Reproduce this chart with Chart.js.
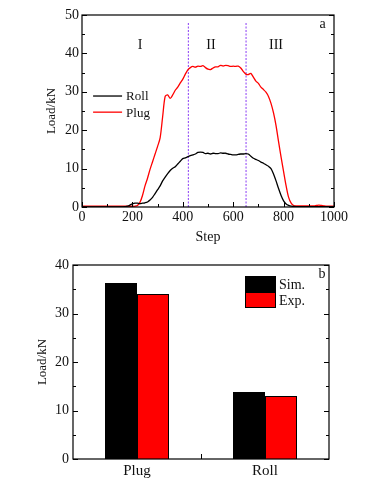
<!DOCTYPE html>
<html>
<head>
<meta charset="utf-8">
<script src="https://cdn.jsdelivr.net/npm/chart.js@4/dist/chart.umd.min.js"></script>
<style>
  html, body { margin: 0; padding: 0; background: #fff; }
  #wrapA { position: absolute; left: 0; top: 0; width: 370px; height: 248px; }
  #wrapB { position: absolute; left: 0; top: 248px; width: 370px; height: 235px; }
</style>
</head>
<body>
<div id="wrapA"><canvas id="chartA" width="370" height="248"></canvas></div>
<div id="wrapB"><canvas id="chartB" width="370" height="235"></canvas></div>
<script>
// ---------- Data: panel a ----------
const steps = [
  0,10,20,30,40,50,60,70,80,90,
  100,110,120,130,140,150,160,170,180,190,
  200,210,220,230,240,250,260,270,280,290,
  300,310,320,330,340,350,360,370,380,390,
  400,410,420,430,440,450,460,470,480,490,
  500,510,520,530,540,550,560,570,580,590,
  600,610,620,630,640,650,660,670,680,690,
  700,710,720,730,740,750,760,770,780,790,
  800,810,820,830,840,850,860,870,880,890,
  900,910,920,930,940,950,960,970,980,990,
  1000
];
const rollLoad = [
  0.05,0.05,0.05,0.05,0.05,0.05,0.05,0.05,0.05,0.05,
  0.05,0.05,0.05,0.05,0.05,0.05,0.05,0.1,0.2,0.5,
  0.8,1.0,1.0,0.9,1.0,1.1,1.3,1.8,2.5,3.5,
  4.5,5.5,6.8,7.8,8.7,9.5,10.1,10.5,11.2,11.9,
  12.6,12.8,13.1,13.4,13.6,13.8,14.2,14.3,14.2,13.9,
  14.0,13.8,14.0,13.9,13.9,14.1,14.0,14.0,13.8,13.7,
  13.6,13.6,13.7,13.8,13.8,13.9,13.8,13.2,12.7,12.4,
  12.1,11.7,11.4,11.0,10.6,10.0,8.6,6.8,4.8,3.0,
  1.6,0.8,0.4,0.2,0.15,0.1,0.1,0.1,0.1,0.1,
  0.1,0.1,0.1,0.1,0.1,0.1,0.1,0.1,0.1,0.1,
  0.1
];
const plugLoad = [
  0.2,0.2,0.2,0.2,0.2,0.2,0.2,0.2,0.2,0.2,
  0.2,0.2,0.2,0.2,0.2,0.2,0.2,0.2,0.2,0.2,
  0.2,0.2,0.4,1.2,3.0,5.5,7.5,9.8,11.8,13.8,
  15.8,18.0,23.5,28.8,29.2,28.3,29.2,30.4,31.2,32.3,
  33.3,34.6,35.7,36.3,36.6,36.4,36.7,36.6,36.8,36.3,
  35.9,35.8,36.2,36.5,36.5,36.9,36.7,36.9,36.8,36.6,
  36.7,36.6,36.7,36.2,35.3,34.6,34.5,34.8,33.8,32.8,
  32.2,31.2,30.6,29.9,28.8,27.0,24.5,21.2,17.0,13.0,
  9.2,5.5,2.5,1.0,0.4,0.3,0.3,0.3,0.3,0.3,
  0.3,0.3,0.3,0.4,0.5,0.4,0.3,0.2,0.2,0.2,
  0.2
];
const phaseBoundaries = [422, 651];
const phaseLabels = ['I', 'II', 'III'];
const phaseLabelSteps = [230, 512, 770];
const stepTicks = [0, 200, 400, 600, 800, 1000];
const loadTicksA = [0, 10, 20, 30, 40, 50];

// ---------- Data: panel b ----------
const barCategories = ['Plug', 'Roll'];
const simLoad = [36.3, 13.8];
const expLoad = [34.0, 13.0];
const loadTicksB = [0, 10, 20, 30, 40];

const FONT = "'Liberation Serif', 'Times New Roman', serif";
const TXT = '#111';

function toPoints(xs, ys) { return xs.map((x, i) => ({ x: x, y: ys[i] })); }

// frame + inward ticks plugin
const framePlugin = {
  id: 'frame',
  afterDatasetsDraw(chart, args, opts) {
    const ctx = chart.ctx;
    const a = chart.chartArea;
    const ys = chart.scales.y;
    ctx.save();
    ctx.strokeStyle = '#000';
    ctx.lineWidth = 1.2;
    ctx.strokeRect(a.left, a.top, a.right - a.left, a.bottom - a.top);
    ctx.lineWidth = 1;
    for (let v = ys.min; v <= ys.max + 1e-9; v += opts.yMinor) {
      const py = Math.round(ys.getPixelForValue(v)) + 0.5;
      const major = Math.abs(v / opts.yMajor - Math.round(v / opts.yMajor)) < 1e-6;
      const len = major ? 5 : 3;
      ctx.beginPath();
      ctx.moveTo(a.left, py); ctx.lineTo(a.left + len, py);
      ctx.moveTo(a.right, py); ctx.lineTo(a.right - len, py);
      ctx.stroke();
    }
    const xs = chart.scales.x;
    if (opts.xMinor) {
      for (let v = xs.min; v <= xs.max + 1e-9; v += opts.xMinor) {
        const px = Math.round(xs.getPixelForValue(v)) + 0.5;
        const major = Math.abs(v / opts.xMajor - Math.round(v / opts.xMajor)) < 1e-6;
        const len = major ? 5 : 3;
        ctx.beginPath();
        ctx.moveTo(px, a.bottom); ctx.lineTo(px, a.bottom - len);
        ctx.stroke();
      }
    } else {
      const px = Math.round((xs.getPixelForValue(0) + xs.getPixelForValue(1)) / 2) + 0.5;
      ctx.beginPath();
      ctx.moveTo(px, a.bottom); ctx.lineTo(px, a.bottom - 5);
      ctx.stroke();
    }
    ctx.restore();
  }
};

// annotations for panel a
const annotA = {
  id: 'annotA',
  afterDraw(chart) {
    const ctx = chart.ctx;
    const xs = chart.scales.x, ys = chart.scales.y;
    ctx.save();
    ctx.fillStyle = TXT;
    ctx.font = '14px ' + FONT;
    ctx.textAlign = 'center';
    ctx.textBaseline = 'middle';
    phaseLabels.forEach((t, i) => {
      ctx.fillText(t, xs.getPixelForValue(phaseLabelSteps[i]), ys.getPixelForValue(42.2));
    });
    ctx.fillText('a', xs.getPixelForValue(955), ys.getPixelForValue(47.6));
    const items = [['Roll', '#000', 28.9], ['Plug', '#ff0000', 24.7]];
    ctx.textAlign = 'left';
    ctx.font = '13px ' + FONT;
    items.forEach(([label, col, v]) => {
      const py = ys.getPixelForValue(v);
      ctx.strokeStyle = col;
      ctx.lineWidth = 1.3;
      ctx.beginPath();
      ctx.moveTo(xs.getPixelForValue(44), py);
      ctx.lineTo(xs.getPixelForValue(159), py);
      ctx.stroke();
      ctx.fillStyle = TXT;
      ctx.fillText(label, xs.getPixelForValue(175), py + 1);
    });
    ctx.restore();
  }
};

// annotations for panel b
const annotB = {
  id: 'annotB',
  afterDraw(chart) {
    const ctx = chart.ctx;
    const a = chart.chartArea;
    ctx.save();
    ctx.font = '14px ' + FONT;
    ctx.fillStyle = TXT;
    ctx.textBaseline = 'middle';
    ctx.textAlign = 'center';
    ctx.fillText('b', a.right - 7, a.top + 9);
    const bx = a.left + 172, bw = 31, bh = 16;
    const rows = [['Sim.', '#000', a.top + 11], ['Exp.', '#ff0000', a.top + 27]];
    ctx.textAlign = 'left';
    ctx.font = '14px ' + FONT;
    rows.forEach(([label, col, y0]) => {
      ctx.fillStyle = col;
      ctx.fillRect(bx, y0, bw, bh);
      ctx.strokeStyle = '#000';
      ctx.lineWidth = 1;
      ctx.strokeRect(bx + 0.5, y0 + 0.5, bw - 1, bh - 1);
      ctx.fillStyle = TXT;
      ctx.fillText(label, bx + bw + 3, y0 + bh / 2 + 1);
    });
    ctx.restore();
  }
};

// ---------- Chart a ----------
const vlineSets = phaseBoundaries.map(s => ({
  type: 'line',
  data: [{ x: s, y: 0 }, { x: s, y: 48.3 }],
  borderColor: '#8a3cf5',
  borderWidth: 1,
  borderDash: [2, 1.5],
  pointRadius: 0,
  fill: false
}));

const plainNum = v => String(v);

new Chart(document.getElementById('chartA'), {
  type: 'line',
  data: {
    datasets: [
      { label: 'Roll', data: toPoints(steps, rollLoad), borderColor: '#000', borderWidth: 1.3, pointRadius: 0, tension: 0.3, fill: false },
      { label: 'Plug', data: toPoints(steps, plugLoad), borderColor: '#ff0000', borderWidth: 1.3, pointRadius: 0, tension: 0.3, fill: false },
      ...vlineSets
    ]
  },
  options: {
    responsive: false,
    animation: false,
    layout: { padding: { left: 0, right: 36, top: 15, bottom: 0 } },
    plugins: { legend: { display: false }, tooltip: { enabled: false }, frame: { yMinor: 5, yMajor: 10, xMinor: 100, xMajor: 200 } },
    scales: {
      x: {
        type: 'linear', min: 0, max: 1000,
        afterBuildTicks: s => { s.ticks = stepTicks.map(v => ({ value: v })); },
        afterFit: s => { s.height = 41; },
        grid: { display: false, drawTicks: false },
        border: { display: false },
        ticks: { color: TXT, font: { family: FONT, size: 14 }, padding: 2, maxRotation: 0, callback: plainNum },
        title: { display: true, text: 'Step', color: TXT, font: { family: FONT, size: 14 }, padding: { top: 0, bottom: 2 } }
      },
      y: {
        min: 0, max: 50,
        afterBuildTicks: s => { s.ticks = loadTicksA.map(v => ({ value: v })); },
        afterFit: s => { s.width = 82; },
        grid: { display: false, drawTicks: false },
        border: { display: false },
        ticks: { color: TXT, font: { family: FONT, size: 14 }, padding: 3, callback: plainNum },
        title: { display: true, text: 'Load/kN', color: TXT, font: { family: FONT, size: 13 }, padding: { top: 44, bottom: 0 } }
      }
    }
  },
  plugins: [framePlugin, annotA]
});

// ---------- Chart b ----------
new Chart(document.getElementById('chartB'), {
  type: 'bar',
  data: {
    labels: barCategories,
    datasets: [
      { label: 'Sim.', data: simLoad, backgroundColor: '#000', borderColor: '#000', borderWidth: 1, categoryPercentage: 0.5, barPercentage: 1.0 },
      { label: 'Exp.', data: expLoad, backgroundColor: '#ff0000', borderColor: '#000', borderWidth: 1, categoryPercentage: 0.5, barPercentage: 1.0 }
    ]
  },
  options: {
    responsive: false,
    animation: false,
    layout: { padding: { left: 0, right: 41, top: 17, bottom: 0 } },
    plugins: { legend: { display: false }, tooltip: { enabled: false }, frame: { yMinor: 5, yMajor: 10 } },
    scales: {
      x: {
        afterFit: s => { s.height = 24; },
        grid: { display: false, drawTicks: false },
        border: { display: false },
        ticks: { color: TXT, font: { family: FONT, size: 15 }, padding: 3 },
      },
      y: {
        min: 0, max: 40,
        afterBuildTicks: s => { s.ticks = loadTicksB.map(v => ({ value: v })); },
        afterFit: s => { s.width = 73; },
        grid: { display: false, drawTicks: false },
        border: { display: false },
        ticks: { color: TXT, font: { family: FONT, size: 14 }, padding: 4, callback: plainNum },
        title: { display: true, text: 'Load/kN', color: TXT, font: { family: FONT, size: 13 }, padding: { top: 35, bottom: 0 } }
      }
    }
  },
  plugins: [framePlugin, annotB]
});
</script>
</body>
</html>
